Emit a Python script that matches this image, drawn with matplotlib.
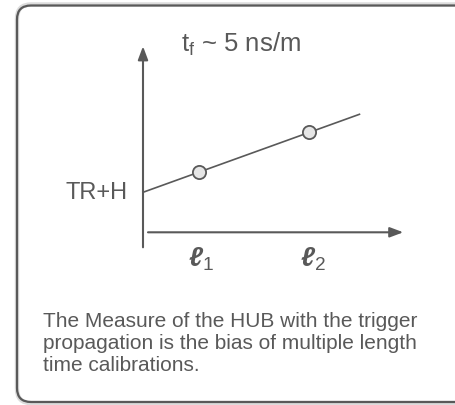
import matplotlib
matplotlib.use("Agg")
import matplotlib.pyplot as plt
from matplotlib.patches import PathPatch
from matplotlib.path import Path
import numpy as np

# diagram values: t(l) = TR+H + rate * l
offset_ns = 10.0          # TR+H
rate_ns_per_m = 5.0       # t_f ~ 5 ns/m
lengths = [1.0, 3.0]      # l1, l2
length_labels = [r'$\mathbf{\ell}_{\mathrm{1}}$', r'$\mathbf{\ell}_{\mathrm{2}}$']
line_end = 3.9
rate_label = r'$\mathrm{t_f}$ ~ 5 ns/m'
offset_label = 'TR+H'
caption_lines = ["The Measure of the HUB with the trigger",
                 "propagation is the bias of multiple length",
                 "time calibrations."]

grey = '#595959'
plt.rcParams['font.family'] = ['Liberation Sans', 'DejaVu Sans']
plt.rcParams['mathtext.fontset'] = 'custom'
plt.rcParams['mathtext.rm'] = 'Liberation Sans'
plt.rcParams['mathtext.it'] = 'Liberation Sans:italic'
plt.rcParams['mathtext.bf'] = 'Liberation Sans:bold:italic'

W, H = 455, 406
fig = plt.figure(figsize=(W / 100, H / 100), dpi=100)

# background axes in pixel units for the card frame and caption
bg = fig.add_axes([0, 0, 1, 1])
bg.set_xlim(0, W)
bg.set_ylim(H, 0)
bg.axis('off')


def card_path(xl, yt, yb, r):
    # left part of a rounded card that runs off the right edge
    verts = [(W + 20, yt), (xl + r, yt), (xl, yt), (xl, yt + r),
             (xl, yb - r), (xl, yb), (xl + r, yb), (W + 20, yb)]
    codes = [Path.MOVETO, Path.LINETO, Path.CURVE3, Path.CURVE3,
             Path.LINETO, Path.CURVE3, Path.CURVE3, Path.LINETO]
    return Path(verts, codes)


bg.add_patch(PathPatch(card_path(17, 5.5, 404, 14), fc='none', ec='#dcdcdc', lw=3.2, zorder=1))
bg.add_patch(PathPatch(card_path(17, 6.5, 403, 14), fc='none', ec=grey, lw=1.6, zorder=2))
for i, line in enumerate(caption_lines):
    bg.text(43, 327.5 + i * 21.8, line, fontsize=15, color=grey, ha='left',
            va='baseline', zorder=3)

# diagram axes: 55.5 px per metre, 4 px per ns, origin at (143, 233) px
px_m, px_ns = 55.5, 4.0
x0, x1 = -1.0, 5.0
y0, y1 = -4.0, 48.0
left = 143 + x0 * px_m
bottom = 233.3 - y0 * px_ns
ax = fig.add_axes([left / W, (H - bottom) / H, (x1 - x0) * px_m / W, (y1 - y0) * px_ns / H])
ax.set_xlim(x0, x1)
ax.set_ylim(y0, y1)
ax.axis('off')
ax.patch.set_alpha(0)

arrow = dict(arrowstyle='-|>,head_length=0.8,head_width=0.3', color=grey, lw=1.5,
             shrinkA=0, shrinkB=0, mutation_scale=10)
ax.annotate('', xy=(0, 46.5), xytext=(0, -3.75), arrowprops=arrow)
ax.annotate('', xy=(4.69, 0), xytext=(0.09, 0), arrowprops=arrow)

xs = np.array([0.0, line_end])
ax.plot(xs, offset_ns + rate_ns_per_m * xs, color=grey, lw=1.2, zorder=3)
ls = np.array(lengths)
ax.plot(ls, offset_ns + rate_ns_per_m * ls, 'o', ms=9.5, mfc='#e6e6e6', mec=grey,
        mew=1.3, zorder=4)

ax.annotate(offset_label, xy=(0, offset_ns), xytext=(-15, 0), textcoords='offset pixels',
            ha='right', va='center', fontsize=17, color=grey)
ax.annotate(rate_label, xy=(0, 46.5), xytext=(38, -4), textcoords='offset pixels',
            ha='left', va='baseline', fontsize=18.5, color=grey)
for l, lab in zip(lengths, length_labels):
    ax.annotate(lab, xy=(l, 0), xytext=(3, -12), textcoords='offset pixels',
                ha='center', va='top', fontsize=19.5, color=grey)

fig.savefig('out.png', dpi=100)
